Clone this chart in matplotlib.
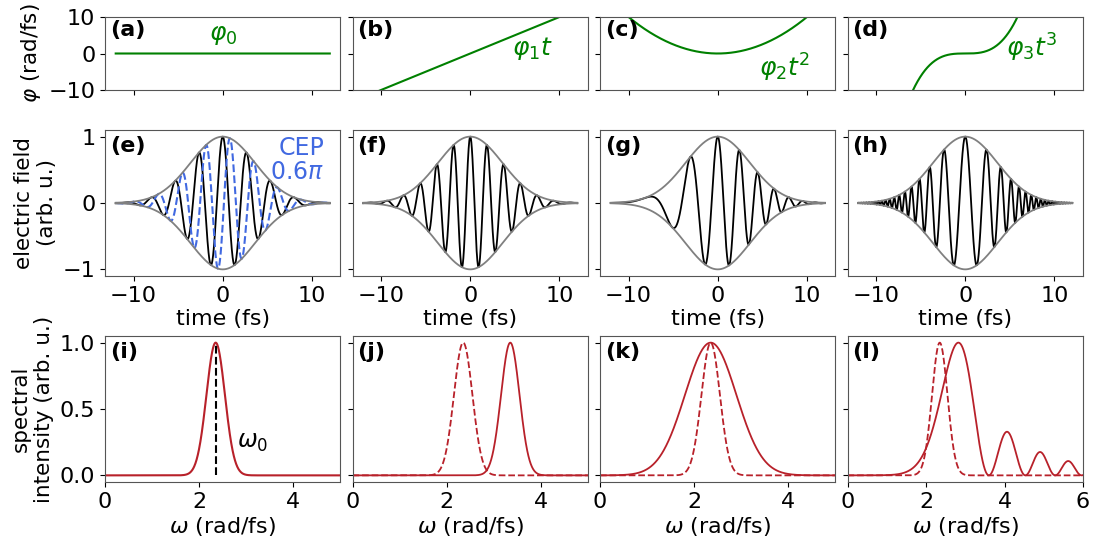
import numpy as np
import matplotlib.pyplot as plt
from matplotlib.gridspec import GridSpec

# pulse parameters
OMEGA0 = 2.35          # carrier (rad/fs)
TAU = 6.0              # intensity FWHM (fs)
CEP = 0.6 * np.pi      # blue dashed pulse in (e)
PHI0 = 0.0
PHI1 = 1.0             # rad/fs
PHI2 = 0.1             # rad/fs^2
PHI3 = 0.05            # rad/fs^3

panel_letters = ["a", "b", "c", "d", "e", "f", "g", "h", "i", "j", "k", "l"]
phase_labels = [r"$\varphi_0$", r"$\varphi_1 t$", r"$\varphi_2 t^2$", r"$\varphi_3 t^3$"]
phase_label_pos = [(0.0, 5.0), (7.0, 1.5), (7.5, -4.0), (7.5, 1.5)]
omega_max = [5, 5, 5, 6]

T_RANGE = (-12, 12)

GREEN = "green"
RED = "#b8212a"
BLUE = "royalblue"
GRAY = "gray"

plt.rcParams["font.size"] = 15
plt.rcParams["xtick.labelsize"] = 16
plt.rcParams["ytick.labelsize"] = 16
plt.rcParams["axes.labelsize"] = 15.5
plt.rcParams["axes.edgecolor"] = "#555555"


def phase(t, k):
    return [PHI0 + 0 * t, PHI1 * t, PHI2 * t**2, PHI3 * t**3][k]


def envelope(t):
    return np.exp(-2 * np.log(2) * t**2 / TAU**2)


def field(t, k, cep=0.0):
    return envelope(t) * np.cos(OMEGA0 * t + phase(t, k) - cep)


def spectrum(w, k):
    tt = np.linspace(-25, 25, 5001)
    E = field(tt, k)
    S = np.abs(np.exp(-1j * np.outer(w, tt)) @ E) ** 2
    return S / S.max()


fig = plt.figure(figsize=(10.96, 5.42), dpi=100)
gs = GridSpec(5, 4, figure=fig, height_ratios=[73, 40, 146, 60, 146],
              hspace=0, wspace=0.051,
              left=105 / 1096, right=1083 / 1096, top=1 - 17 / 542, bottom=1 - 482 / 542)

t = np.linspace(T_RANGE[0], T_RANGE[1], 3000)
w = np.linspace(0, 6, 1201)
s_ref = spectrum(w, 0)

ax_ph, ax_e, ax_s = [], [], []
for k in range(4):
    a1 = fig.add_subplot(gs[0, k], sharey=ax_ph[0] if ax_ph else None)
    a2 = fig.add_subplot(gs[2, k], sharex=a1, sharey=ax_e[0] if ax_e else None)
    a3 = fig.add_subplot(gs[4, k], sharey=ax_s[0] if ax_s else None)
    ax_ph.append(a1); ax_e.append(a2); ax_s.append(a3)

    # phase
    a1.plot(t, phase(t, k), color=GREEN, lw=1.5)
    a1.set_ylim(-10, 10)
    a1.set_yticks([-10, 0, 10])
    a1.tick_params(labelbottom=False)
    a1.text(*phase_label_pos[k], phase_labels[k], color=GREEN, fontsize=18,
            ha="center", va="center")

    # field
    env = envelope(t)
    a2.plot(t, field(t, k), color="black", lw=1.3)
    if k == 0:
        a2.plot(t, field(t, 0, CEP), color=BLUE, lw=1.5, ls="--")
        a2.text(0.93, 0.96, "CEP\n" + r"0.6$\pi$", transform=a2.transAxes, color=BLUE,
                fontsize=17, ha="right", va="top", linespacing=1.0)
    a2.plot(t, env, color=GRAY, lw=1.3)
    a2.plot(t, -env, color=GRAY, lw=1.3)
    a2.set_yticks([-1, 0, 1])
    a2.set_xticks([-10, 0, 10])
    a2.set_xlabel("time (fs)", fontsize=16, labelpad=2)

    # spectrum
    if k == 0:
        a3.plot(w, s_ref, color=RED, lw=1.5)
        a3.plot([OMEGA0, OMEGA0], [0, 1], color="black", ls="--", lw=1.5)
        a3.text(2.8, 0.25, r"$\omega_0$", fontsize=17, ha="left", va="center")
    else:
        a3.plot(w, s_ref, color=RED, lw=1.3, ls="--")
        a3.plot(w, spectrum(w, k), color=RED, lw=1.3)
    a3.set_xlim(0, omega_max[k])
    a3.set_xticks(range(0, omega_max[k] + 1, 2))
    a3.set_yticks([0, 0.5, 1.0])
    a3.set_xlabel(r"$\omega$ (rad/fs)", fontsize=16, labelpad=2)

    for a, letter in zip([a1, a2, a3], [panel_letters[k], panel_letters[k + 4], panel_letters[k + 8]]):
        a.text(0.02, 0.96, f"({letter})", transform=a.transAxes, fontweight="bold",
               fontsize=16, ha="left", va="top")
        if k > 0:
            a.tick_params(labelleft=False)

ax_s[0].set_ylim(-0.05, 1.05)
ax_ph[0].set_ylabel(r"$\varphi$ (rad/fs)")
ax_e[0].set_ylabel("electric field\n(arb. u.)")
ax_s[0].set_ylabel("spectral\nintensity (arb. u.)")

fig.savefig("out.png", dpi=100)
